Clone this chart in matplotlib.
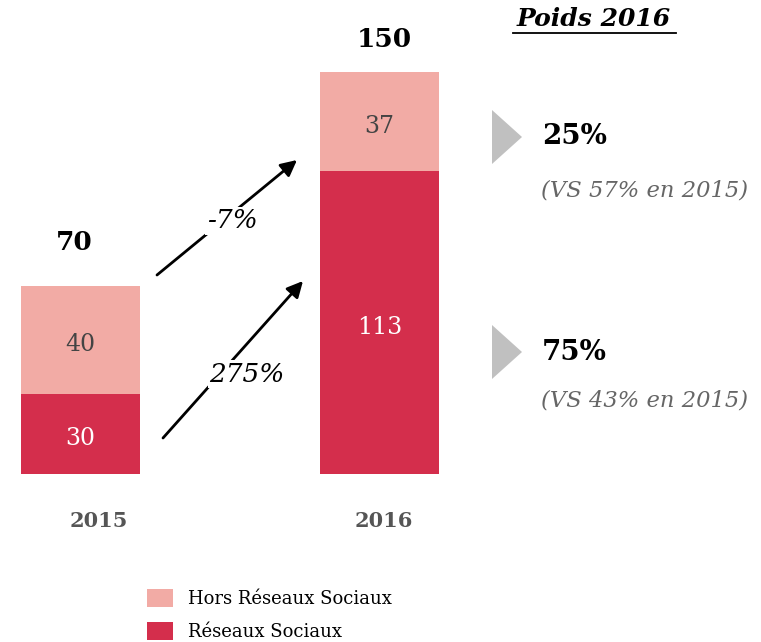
import matplotlib.pyplot as plt
from matplotlib.patches import Polygon

# data
years = ['2015', '2016']
reseaux = [30, 113]
hors_reseaux = [40, 37]
totals = [70, 150]
growth_labels = ['-7%', '275%']
weights = ['25%', '75%']
weights_prev = ['(VS 57% en 2015)', '(VS 43% en 2015)']
series_names = ['Hors Réseaux Sociaux', 'Réseaux Sociaux']

# label nudges (x in bar units, y in value units)
total_dx = [-0.02, 0.015]
total_dy = [16.5, 12]
year_dx = [0.06, 0.015]

col_light = '#F2ABA5'
col_dark = '#D42E4C'
serif = 'DejaVu Serif'

W, H = 761, 642
fig = plt.figure(figsize=(W / 100, H / 100), dpi=100)

# bar axes: bottom of bars at y=474px, 150 units -> 402px
ax = fig.add_axes([0, (H - 474) / H, 1, 402 / H])
ax.set_xlim(-80.5 / 299, (W - 80.5) / 299)
ax.set_ylim(0, 150)
ax.axis('off')

x = list(range(len(years)))
b1 = ax.bar(x, reseaux, width=0.398, color=col_dark, edgecolor='none')
b2 = ax.bar(x, hors_reseaux, bottom=reseaux, width=0.398, color=col_light, edgecolor='none')

for i in x:
    ax.text(i, reseaux[i] / 2 - 1.8, str(reseaux[i]), ha='center', va='center',
            color='white', fontsize=17, family=serif)
    ax.text(i, reseaux[i] + hors_reseaux[i] / 2 - 1.8, str(hors_reseaux[i]), ha='center', va='center',
            color='#444444', fontsize=17, family=serif)
    ax.text(i + total_dx[i], totals[i] + total_dy[i], str(totals[i]), ha='center', va='center',
            color='black', fontsize=19, fontweight='bold', family=serif)
    ax.text(i + year_dx[i], -17.5, years[i], ha='center', va='center',
            color='#555555', fontsize=15, fontweight='bold', family=serif)

# overlay axes in pixel coordinates for annotations
ov = fig.add_axes([0, 0, 1, 1])
ov.set_xlim(0, W)
ov.set_ylim(H, 0)
ov.axis('off')

arrow = dict(arrowstyle='-|>', color='black', lw=2, mutation_scale=24, shrinkA=0, shrinkB=0)
ov.annotate('', xy=(297, 160), xytext=(157, 275), arrowprops=arrow)
ov.annotate('', xy=(303, 281), xytext=(163, 438), arrowprops=arrow)
ov.text(232, 221, growth_labels[0], ha='center', va='center', fontsize=19, style='italic',
        family=serif, bbox=dict(facecolor='white', edgecolor='none', pad=1))
ov.text(247, 374, growth_labels[1], ha='center', va='center', fontsize=19, style='italic',
        family=serif, bbox=dict(facecolor='white', edgecolor='none', pad=1))

# title
ov.text(594, 19, 'Poids 2016', ha='center', va='center', fontsize=18, fontweight='bold',
        style='italic', family=serif)
ov.plot([513, 676], [33, 33], color='black', lw=1.3)

# right side weights
for yc, yv, w, p in [(137, 190, weights[0], weights_prev[0]), (352, 401, weights[1], weights_prev[1])]:
    ov.add_patch(Polygon([(492, yc - 27), (522, yc), (492, yc + 27)], closed=True,
                         facecolor='#C0C0C0', edgecolor='none'))
    ov.text(542, yc, w, ha='left', va='center', fontsize=20, fontweight='bold', family=serif)
    ov.text(541, yv, p, ha='left', va='center', fontsize=16.3, style='italic',
            color='#666666', family=serif)

# legend
fig.legend([b2, b1], series_names, loc='upper left', bbox_to_anchor=(140 / W, 1 - 582 / H),
           frameon=False, prop={'family': serif, 'size': 13}, handlelength=1.45,
           handleheight=1.1, labelspacing=0.8, handletextpad=0.8, borderaxespad=0)

fig.savefig('out.png', dpi=100)
